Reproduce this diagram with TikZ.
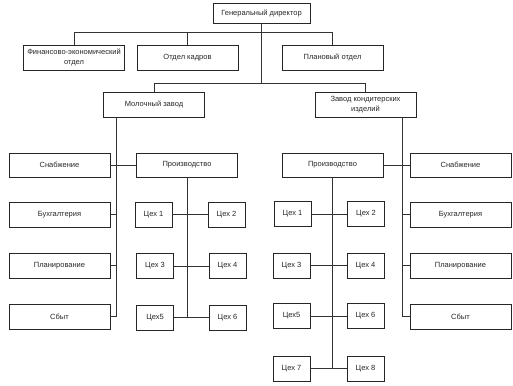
\documentclass[tikz,border=0pt]{standalone}
\usepackage{fontspec}
\setmainfont{Liberation Sans}
\usetikzlibrary{calc}
\begin{document}
\begin{tikzpicture}[x=1pt,y=-1pt,
  box/.style={draw=black!85, line width=0.8pt, inner sep=1pt, align=center,
    font=\fontsize{7.5}{9.5}\selectfont, text=black!85},
  wide/.style={box, minimum width=101pt, minimum height=25pt},
  ceh/.style={box, minimum width=37pt, minimum height=25pt},
  conn/.style={draw=black!80, line width=0.8pt}]
\useasboundingbox (0,0) rectangle (513,385);
% top
\node[box, minimum width=97pt, minimum height=20pt] (dir) at (261.5,13) {Генеральный директор};
\node[wide] (fin) at (74,57.5) {Финансово-экономический\\отдел};
\node[wide] (kadr) at (187.5,57.5) {Отдел кадров};
\node[wide] (plan) at (332.5,57.5) {Плановый отдел};
\node[wide] (milk) at (154,104.5) {Молочный завод};
\node[wide] (konf) at (365.5,104.5) {Завод кондитерских\\изделий};
\coordinate (b1) at (0,32);
\coordinate (b2) at (0,83);
\draw[conn] (fin.north) -- (fin.north |- b1) -- (plan.north |- b1) -- (plan.north);
\draw[conn] (kadr.north) -- (kadr.north |- b1);
\draw[conn] (dir.south) -- (dir.south |- b2);
\draw[conn] (milk.north) -- (milk.north |- b2) -- (konf.north |- b2) -- (konf.north);
% left plant
\node[wide, minimum height=24pt] (snab1) at (59.5,165) {Снабжение};
\node[wide] (buh1) at (59.5,214.5) {Бухгалтерия};
\node[wide] (plan1) at (59.5,265.5) {Планирование};
\node[wide] (sbyt1) at (59.5,316.5) {Сбыт};
\node[wide, minimum height=24pt] (prod1) at (187,165) {Производство};
\coordinate (m0) at ($(milk.south west)+(13,0)$);
\draw[conn] (m0) -- (m0 |- sbyt1.east) -- (sbyt1.east);
\draw[conn] (snab1.east) -- (prod1.west);
\draw[conn] (buh1.east) -- (buh1.east -| m0);
\draw[conn] (plan1.east) -- (plan1.east -| m0);
\node[ceh] (c1) at (153.5,214.5) {Цех 1};
\node[ceh] (c2) at (226.5,214.5) {Цех 2};
\node[ceh] (c3) at (155,266) {Цех 3};
\node[ceh] (c4) at (227.5,266) {Цех 4};
\node[ceh] (c5) at (155,317.5) {Цех5};
\node[ceh] (c6) at (227.5,317.5) {Цех 6};
\draw[conn] (prod1.south) -- (prod1.south |- c5.east);
\draw[conn] (c1.east) -- (c2.west);
\draw[conn] (c3.east) -- (c4.west);
\draw[conn] (c5.east) -- (c6.west);
% right plant
\node[wide, minimum height=24pt] (prod2) at (332.5,165) {Производство};
\node[wide, minimum height=24pt] (snab2) at (460.5,165) {Снабжение};
\node[wide] (buh2) at (460.5,214.5) {Бухгалтерия};
\node[wide] (plan2) at (460.5,265.5) {Планирование};
\node[wide] (sbyt2) at (460.5,316.5) {Сбыт};
\coordinate (k0) at ($(konf.south west)+(88,0)$);
\draw[conn] (k0) -- (k0 |- sbyt2.west) -- (sbyt2.west);
\draw[conn] (prod2.east) -- (snab2.west);
\draw[conn] (buh2.west) -- (buh2.west -| k0);
\draw[conn] (plan2.west) -- (plan2.west -| k0);
\node[ceh] (d1) at (292.5,214) {Цех 1};
\node[ceh] (d2) at (366,214) {Цех 2};
\node[ceh] (d3) at (291.5,265.5) {Цех 3};
\node[ceh] (d4) at (365.5,265.5) {Цех 4};
\node[ceh] (d5) at (291.5,316) {Цех5};
\node[ceh] (d6) at (365.5,316) {Цех 6};
\node[ceh] (d7) at (291.5,368.5) {Цех 7};
\node[ceh] (d8) at (365.5,368.5) {Цех 8};
\draw[conn] (prod2.south) -- (prod2.south |- d7.east);
\draw[conn] (d1.east) -- (d2.west);
\draw[conn] (d3.east) -- (d4.west);
\draw[conn] (d5.east) -- (d6.west);
\draw[conn] (d7.east) -- (d8.west);
\end{tikzpicture}
\end{document}
